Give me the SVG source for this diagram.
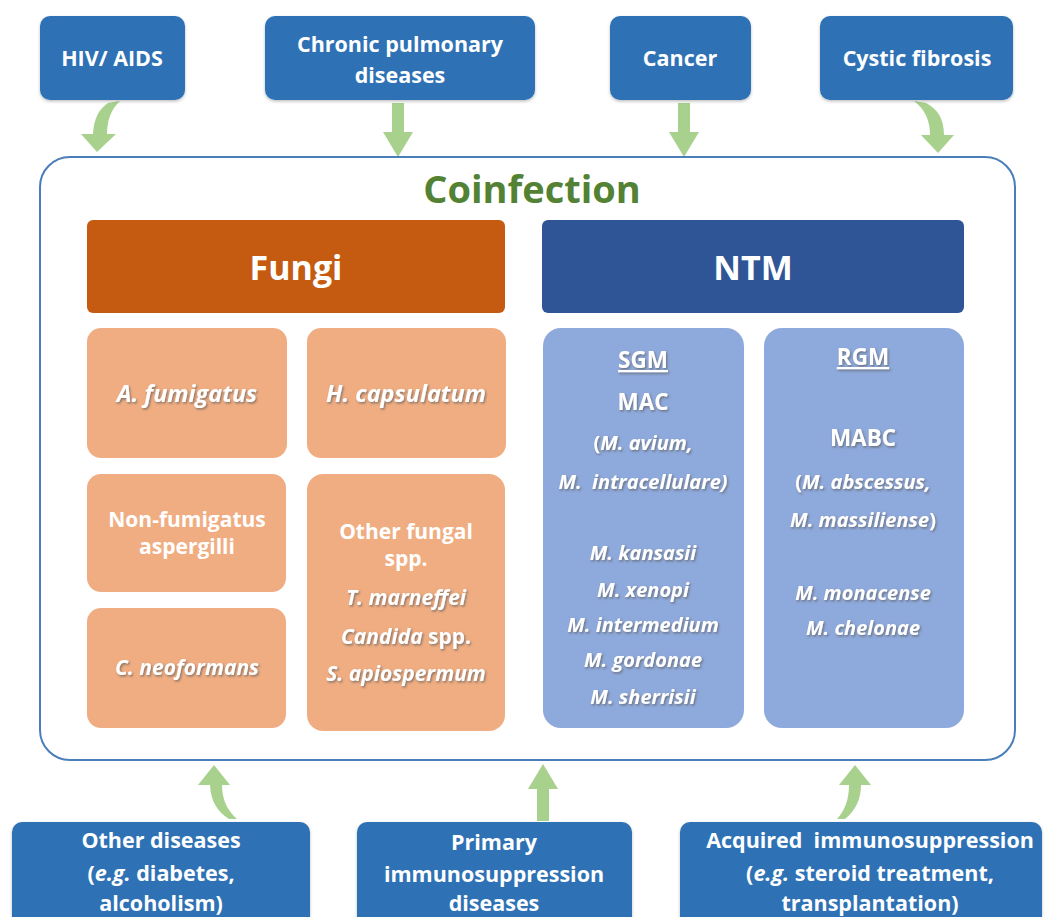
<svg xmlns="http://www.w3.org/2000/svg" width="1049" height="917" viewBox="0 0 1049 917">
<defs>
<filter id="ts" x="-10%" y="-30%" width="120%" height="160%">
<feDropShadow dx="1.2" dy="1.5" stdDeviation="0.8" flood-color="#5a5a5a" flood-opacity="0.7"/>
</filter>
<filter id="bs" x="-5%" y="-5%" width="110%" height="115%">
<feDropShadow dx="0" dy="1.5" stdDeviation="1.5" flood-color="#000" flood-opacity="0.25"/>
</filter>
</defs>
<style>
.top{fill:#2E72B5;filter:url(#bs)}
.t{font-family:"Open Sans","Liberation Sans",sans-serif;fill:#fff;font-weight:700;text-anchor:middle}
.tb{font-size:21.5px}
.hd{font-size:34px}
.fl{fill:#F0AD82}
.nl{fill:#8EA9DB}
.it{font-style:italic}
.sh{filter:url(#ts)}
.fi{font-size:21px}
.fb{font-size:23.5px}
.ni{font-size:20px}
.nh{font-size:22.5px}
.arr{fill:#A9D18E}
</style>
<rect width="1049" height="917" fill="#fff"/>

<g id="connectors">
<path class="arr" d="M120,101 Q107,113 107,134 L116,134 L97,152 L81,134 L93,134 Q94,112 108,103 Z"/>
<path class="arr" d="M392,103 L404,103 L404,132 L413,132 L398,157 L383,132 L392,132 Z"/>
<path class="arr" d="M678,103 L690,103 L690,132 L699,132 L684,157 L669,132 L678,132 Z"/>
<path class="arr" d="M914,101 Q930,113 930,135 L921,135 L938,153 L954,135 L944,135 Q944,112 926,103 Z"/>
<path class="arr" d="M214,765 L230,785 L222,785 Q222,806 237,819 L229,819 Q211,808 210,785 L198,785 Z"/>
<path class="arr" d="M543,764 L558,789 L549,789 L549,821 L537,821 L537,789 L528,789 Z"/>
<path class="arr" d="M855,765 L871,785 L861,785 Q861,806 845,819 L837,819 Q849,806 849,785 L839,785 Z"/>
</g>

<g id="hiv">
<rect class="top" x="40" y="16" width="145" height="84" rx="10"/>
<text class="t tb" x="112" y="66">HIV/ AIDS</text>
</g>
<g id="chronic">
<rect class="top" x="265" y="16" width="270" height="84" rx="10"/>
<text class="t tb" x="400" y="52">Chronic pulmonary</text>
<text class="t tb" x="400" y="83">diseases</text>
</g>
<g id="cancer">
<rect class="top" x="610" y="16" width="141" height="84" rx="10"/>
<text class="t tb" x="680" y="66">Cancer</text>
</g>
<g id="cystic">
<rect class="top" x="820" y="16" width="193" height="84" rx="10"/>
<text class="t tb" x="917" y="66">Cystic fibrosis</text>
</g>

<g id="coinfection">
<rect x="40" y="157" width="975" height="603" rx="30" fill="#fff" stroke="#4A7EBB" stroke-width="2"/>
<text x="532" y="203" font-family="Open Sans, Liberation Sans, sans-serif" font-size="38" font-weight="700" fill="#548235" text-anchor="middle">Coinfection</text>
</g>

<g id="fungi">
<rect x="87" y="220" width="418" height="93" rx="6" fill="#C55A11"/>
<text class="t hd" x="296" y="280">Fungi</text>
</g>
<g id="ntm">
<rect x="542" y="220" width="422" height="93" rx="6" fill="#2F5597"/>
<text class="t hd" x="753" y="280">NTM</text>
</g>

<g id="afumigatus">
<rect class="fl" x="87" y="328" width="200" height="130" rx="14"/>
<text class="t fb it sh" x="187" y="402">A. fumigatus</text>
</g>
<g id="hcapsulatum">
<rect class="fl" x="307" y="328" width="199" height="130" rx="14"/>
<text class="t fb it sh" x="406" y="402">H. capsulatum</text>
</g>
<g id="nonfumigatus">
<rect class="fl" x="87" y="474" width="199" height="118" rx="14"/>
<text class="t fi" x="187" y="527">Non-fumigatus</text>
<text class="t fi" x="187" y="554">aspergilli</text>
</g>
<g id="cneoformans">
<rect class="fl" x="87" y="608" width="199" height="120" rx="14"/>
<text class="t fi it sh" x="187" y="675">C. neoformans</text>
</g>
<g id="otherfungal">
<rect class="fl" x="307" y="474" width="198" height="257" rx="16"/>
<text class="t fi" x="406" y="539">Other fungal</text>
<text class="t fi" x="406" y="566">spp.</text>
<text class="t fi it sh" x="406" y="605">T. marneffei</text>
<text class="t fi sh" x="406" y="644"><tspan class="it">Candida</tspan> spp.</text>
<text class="t fi it sh" x="406" y="681">S. apiospermum</text>
</g>

<g id="sgm">
<rect class="nl" x="543" y="328" width="201" height="400" rx="18"/>
<text class="t nh sh" x="643" y="368" text-decoration="underline">SGM</text>
<text class="t nh sh" x="643" y="410">MAC</text>
<text class="t ni sh" x="643" y="450">(<tspan class="it">M. avium,</tspan></text>
<text class="t ni it sh" x="643" y="489" xml:space="preserve">M.  intracellulare)</text>
<text class="t ni it sh" x="643" y="560">M. kansasii</text>
<text class="t ni it sh" x="643" y="597">M. xenopi</text>
<text class="t ni it sh" x="643" y="632">M. intermedium</text>
<text class="t ni it sh" x="643" y="667">M. gordonae</text>
<text class="t ni it sh" x="643" y="704">M. sherrisii</text>
</g>
<g id="rgm">
<rect class="nl" x="764" y="328" width="200" height="400" rx="18"/>
<text class="t nh sh" x="863" y="365" text-decoration="underline">RGM</text>
<text class="t nh sh" x="863" y="446">MABC</text>
<text class="t ni sh" x="863" y="489">(<tspan class="it">M. abscessus,</tspan></text>
<text class="t ni sh" x="863" y="527"><tspan class="it">M. massiliense</tspan>)</text>
<text class="t ni it sh" x="863" y="600">M. monacense</text>
<text class="t ni it sh" x="863" y="635">M. chelonae</text>
</g>

<g id="otherdiseases">
<rect class="top" x="12" y="822" width="298" height="110" rx="10"/>
<text class="t tb" x="161" y="848">Other diseases</text>
<text class="t tb" x="161" y="881">(<tspan class="it">e.g.</tspan> diabetes,</text>
<text class="t tb" x="161" y="911">alcoholism)</text>
</g>
<g id="primary">
<rect class="top" x="357" y="822" width="275" height="110" rx="10"/>
<text class="t tb" x="494" y="850">Primary</text>
<text class="t tb" x="494" y="882">immunosuppression</text>
<text class="t tb" x="494" y="911">diseases</text>
</g>
<g id="acquired">
<rect class="top" x="680" y="822" width="362" height="110" rx="10"/>
<text class="t tb" x="870" y="848" xml:space="preserve">Acquired  immunosuppression</text>
<text class="t tb" x="870" y="881">(<tspan class="it">e.g.</tspan> steroid treatment,</text>
<text class="t tb" x="870" y="911">transplantation)</text>
</g>
</svg>
